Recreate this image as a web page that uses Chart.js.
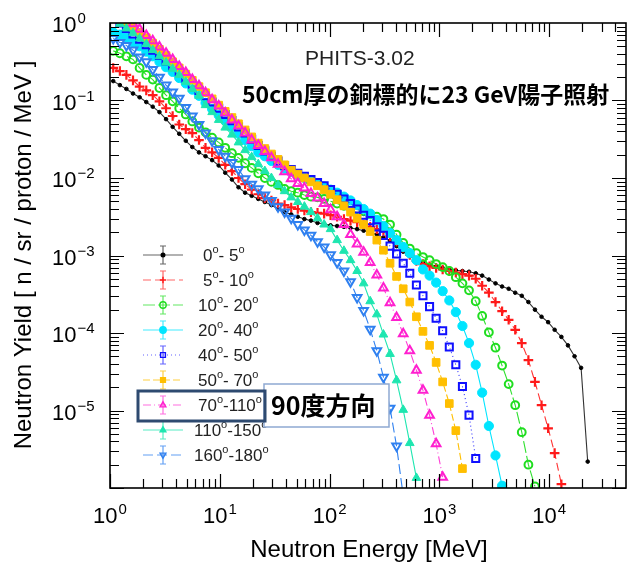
<!DOCTYPE html>
<html>
<head>
<meta charset="utf-8">
<script src="https://cdn.jsdelivr.net/npm/chart.js@4.4.1/dist/chart.umd.min.js"></script>
<style>
html,body{margin:0;padding:0;background:#fff}
canvas{display:block}
</style>
</head>
<body>
<canvas id="yieldChart" width="633" height="565"></canvas>
<script>
// energy bin centres [MeV]
const energies = [1.07,1.23,1.41,1.62,1.86,2.14,2.45,2.82,3.24,3.72,4.27,4.90,5.62,6.46,7.41,8.51,9.77,
  11.2,12.9,14.8,17.0,19.5,22.4,25.7,29.5,33.9,38.9,44.7,51.3,58.9,67.6,77.6,89.1,
  102,117,135,155,178,204,234,269,309,355,407,468,537,617,708,813,933,
  1070,1230,1410,1620,1860,2140,2450,2820,3240,3720,4270,4900,5620,6460,7410,8510,9770,
  11200,12900,14800,17000,19500,22400]

const angleLabels = ['0°- 5°','5°- 10°','10°- 20°','20°- 40°','40°- 50°','50°- 70°','70°-110°','110°-150°','160°-180°']

// neutron yield [n/sr/proton/MeV] per angle bin
const yield0to5 = [0.178,0.158,0.141,0.123,0.110,9.55e-2,8.32e-2,7.08e-2,5.75e-2,4.57e-2,3.72e-2,3.02e-2,2.51e-2,2.14e-2,1.91e-2,1.70e-2,1.45e-2,
  1.17e-2,9.55e-3,7.59e-3,6.46e-3,5.89e-3,5.37e-3,4.90e-3,4.47e-3,3.98e-3,3.63e-3,3.39e-3,3.16e-3,2.95e-3,2.82e-3,2.63e-3,2.57e-3,
  2.45e-3,2.40e-3,2.34e-3,2.26e-3,2.19e-3,2.09e-3,2.00e-3,1.86e-3,1.70e-3,1.55e-3,1.32e-3,1.12e-3,9.77e-4,8.91e-4,8.13e-4,7.59e-4,7.24e-4,
  6.92e-4,6.61e-4,6.46e-4,6.31e-4,6.17e-4,5.89e-4,5.50e-4,4.90e-4,4.37e-4,3.98e-4,3.72e-4,3.31e-4,3.02e-4,2.51e-4,2.00e-4,1.62e-4,1.38e-4,
  1.10e-4,8.91e-5,6.92e-5,5.01e-5,3.55e-5,2.19e-6]
const yield5to10 = [0.263,0.240,0.214,0.182,0.151,0.135,0.117,9.77e-2,7.94e-2,6.31e-2,4.90e-2,4.27e-2,3.80e-2,3.09e-2,2.45e-2,2.14e-2,1.82e-2,
  1.48e-2,1.23e-2,1.00e-2,8.32e-3,7.08e-3,6.17e-3,5.50e-3,5.13e-3,4.68e-3,4.47e-3,4.17e-3,3.98e-3,3.80e-3,3.63e-3,3.55e-3,3.47e-3,
  3.31e-3,3.16e-3,2.95e-3,2.82e-3,2.69e-3,2.51e-3,2.34e-3,2.19e-3,2.04e-3,1.78e-3,1.51e-3,1.26e-3,1.02e-3,8.51e-4,7.76e-4,7.24e-4,6.92e-4,
  6.61e-4,6.31e-4,6.03e-4,5.75e-4,5.50e-4,5.01e-4,4.07e-4,3.31e-4,2.51e-4,1.91e-4,1.48e-4,1.10e-4,7.41e-5,4.47e-5,2.34e-5,1.17e-5,5.89e-6,
  2.82e-6,1.12e-6]
const yield10to20 = [0.437,0.407,0.372,0.339,0.263,0.214,0.186,0.145,0.117,9.77e-2,7.94e-2,6.61e-2,5.37e-2,4.47e-2,3.89e-2,3.31e-2,2.88e-2,
  2.45e-2,2.09e-2,1.82e-2,1.55e-2,1.35e-2,1.15e-2,1.00e-2,8.91e-3,8.13e-3,7.24e-3,6.76e-3,6.46e-3,6.03e-3,5.75e-3,5.62e-3,5.37e-3,
  5.01e-3,4.68e-3,4.37e-3,4.17e-3,3.98e-3,3.72e-3,3.39e-3,3.16e-3,2.95e-3,2.51e-3,1.86e-3,1.45e-3,1.23e-3,1.07e-3,9.55e-4,8.71e-4,7.76e-4,
  7.08e-4,6.31e-4,5.25e-4,4.37e-4,3.55e-4,2.57e-4,1.66e-4,1.02e-4,6.46e-5,3.80e-5,2.19e-5,1.17e-5,5.25e-6,2.00e-6,1.05e-6]
const yield20to40 = [0.759,0.708,0.646,0.562,0.501,0.427,0.372,0.316,0.269,0.234,0.195,0.166,0.138,0.115,9.33e-2,7.76e-2,6.46e-2,
  5.50e-2,4.57e-2,3.72e-2,3.09e-2,2.57e-2,2.14e-2,1.91e-2,1.66e-2,1.48e-2,1.32e-2,1.20e-2,1.10e-2,1.00e-2,9.33e-3,8.51e-3,7.76e-3,
  7.08e-3,6.46e-3,5.75e-3,5.13e-3,4.47e-3,3.98e-3,3.47e-3,2.88e-3,2.40e-3,1.95e-3,1.58e-3,1.29e-3,1.07e-3,8.71e-4,6.61e-4,5.50e-4,4.47e-4,
  3.47e-4,2.63e-4,1.86e-4,1.23e-4,7.41e-5,3.89e-5,1.70e-5,6.31e-6,2.63e-6,1.07e-6]
const yield40to50 = [1.15,1.00,0.851,0.724,0.617,0.525,0.447,0.380,0.324,0.275,0.234,0.195,0.162,0.135,0.115,9.55e-2,7.94e-2,
  6.61e-2,5.50e-2,4.57e-2,3.80e-2,3.16e-2,2.63e-2,2.24e-2,1.91e-2,1.66e-2,1.45e-2,1.29e-2,1.15e-2,1.05e-2,9.55e-3,8.71e-3,7.94e-3,
  7.08e-3,6.17e-3,5.37e-3,4.68e-3,3.98e-3,3.31e-3,2.82e-3,2.34e-3,1.82e-3,1.32e-3,1.05e-3,7.94e-4,5.89e-4,4.17e-4,3.02e-4,2.19e-4,1.55e-4,
  1.07e-4,6.61e-5,3.89e-5,2.04e-5,8.71e-6,2.40e-6]
const yield50to70 = [1.41,1.23,1.05,0.891,0.759,0.646,0.550,0.457,0.380,0.316,0.263,0.219,0.182,0.151,0.126,0.105,8.71e-2,
  7.24e-2,6.03e-2,5.01e-2,4.17e-2,3.39e-2,2.82e-2,2.40e-2,2.04e-2,1.74e-2,1.48e-2,1.26e-2,1.12e-2,1.00e-2,8.91e-3,7.94e-3,7.08e-3,
  6.17e-3,5.25e-3,4.37e-3,3.63e-3,3.02e-3,2.51e-3,2.04e-3,1.58e-3,1.17e-3,7.94e-4,5.37e-4,3.72e-4,2.51e-4,1.62e-4,1.05e-4,6.92e-5,4.17e-5,
  2.34e-5,1.23e-5,5.50e-6,1.78e-6]
const yield70to110 = [1.58,1.35,1.15,0.977,0.832,0.692,0.589,0.490,0.407,0.339,0.275,0.229,0.186,0.155,0.126,0.102,8.51e-2,
  6.92e-2,5.62e-2,4.68e-2,3.80e-2,3.09e-2,2.63e-2,2.19e-2,1.82e-2,1.51e-2,1.20e-2,9.77e-3,8.51e-3,7.41e-3,6.31e-3,5.50e-3,4.68e-3,
  3.89e-3,3.16e-3,2.51e-3,1.86e-3,1.41e-3,1.10e-3,8.13e-4,5.62e-4,3.80e-4,2.45e-4,1.58e-4,9.77e-5,5.89e-5,3.31e-5,1.82e-5,8.71e-6,3.72e-6,
  1.38e-6]
const yield110to150 = [1.15,0.977,0.851,0.741,0.631,0.537,0.447,0.372,0.309,0.257,0.214,0.174,0.141,0.115,8.71e-2,7.08e-2,5.62e-2,
  4.47e-2,3.63e-2,2.88e-2,2.29e-2,1.86e-2,1.51e-2,1.23e-2,1.00e-2,8.13e-3,6.76e-3,5.62e-3,4.90e-3,4.27e-3,3.63e-3,3.02e-3,2.51e-3,
  2.19e-3,1.58e-3,1.15e-3,8.71e-4,6.31e-4,4.37e-4,2.57e-4,1.74e-4,9.55e-5,5.37e-5,2.45e-5,1.02e-5,3.80e-6,1.35e-6]
const yield160to180 = [0.631,0.562,0.513,0.447,0.363,0.316,0.251,0.200,0.158,0.129,0.107,8.13e-2,6.31e-2,4.90e-2,3.80e-2,3.02e-2,2.34e-2,
  1.91e-2,1.58e-2,1.29e-2,9.77e-3,8.32e-3,7.24e-3,6.03e-3,5.13e-3,4.27e-3,3.63e-3,3.02e-3,2.51e-3,2.14e-3,1.82e-3,1.51e-3,1.29e-3,
  1.02e-3,8.13e-4,6.31e-4,4.57e-4,2.88e-4,1.95e-4,1.12e-4,5.89e-5,2.69e-5,1.07e-5,3.47e-6,7.94e-7]

const xTickPowers = [0,1,2,3,4]
const yTickPowers = [0,-1,-2,-3,-4,-5]
const codeLabel = 'PHITS-3.02'
const setupLabel = '50cm厚の銅標的に23 GeV陽子照射'
const calloutLabel = '90度方向'

const seriesValues = [yield0to5,yield5to10,yield10to20,yield20to40,yield40to50,yield50to70,yield70to110,yield110to150,yield160to180]

const looks = [
  {color:'#000000', line:'#333333', style:'circle', r:1.8, open:false, dash:[]},
  {color:'#ff1a1a', line:'#ff3333', style:'cross', r:4.8, open:false, dash:[8,4]},
  {color:'#1fdd1f', line:'#2ee02e', style:'circle', r:3.9, open:true, dash:[12,3]},
  {color:'#00e5ff', line:'#00e5ff', style:'circle', r:4.6, open:false, dash:[]},
  {color:'#1010ff', line:'#3030ff', style:'rect', r:5, open:true, dash:[1,3]},
  {color:'#ffbf00', line:'#ffbf00', style:'rect', r:5.4, open:false, dash:[7,3]},
  {color:'#ff1fcf', line:'#ff3fd6', style:'triangle', r:5, open:true, dash:[8,3,1,3]},
  {color:'#1ee6b0', line:'#1ee6b0', style:'triangle', r:5, open:false, dash:[]},
  {color:'#2f80f0', line:'#2f80f0', style:'triangle', r:5, open:true, dash:[10,4], rot:180}
]

const datasets = seriesValues.map(function(vals, i){
  const lk = looks[i]
  return {
    label: angleLabels[i],
    data: vals.map((v, k) => ({x: energies[k], y: v})),
    showLine: true,
    borderColor: lk.line,
    borderWidth: 1.1,
    borderDash: lk.dash,
    pointStyle: lk.style,
    pointRadius: lk.r,
    pointRotation: lk.rot || 0,
    pointBorderColor: lk.color,
    pointBackgroundColor: lk.open ? 'rgba(0,0,0,0)' : lk.color,
    pointBorderWidth: lk.style === 'cross' ? 2.2 : (lk.open ? 2 : 1),
    order: 20 - i
  }
})

function powLabel(ctx, p, x, y, align){
  const base = '10'
  const sup = p < 0 ? '\u2212' + (-p) : String(p)
  ctx.font = '22px "Liberation Sans", Arial, sans-serif'
  const wb = ctx.measureText(base).width
  ctx.font = '15px "Liberation Sans", Arial, sans-serif'
  const ws = ctx.measureText(sup).width
  let x0 = align === 'center' ? x - (wb + ws + 1) / 2 : x
  ctx.textAlign = 'left'
  ctx.textBaseline = 'alphabetic'
  ctx.font = '22px "Liberation Sans", Arial, sans-serif'
  ctx.fillText(base, x0, y)
  ctx.font = '15px "Liberation Sans", Arial, sans-serif'
  ctx.fillText(sup, x0 + wb + 1, y - 9)
}

function degLabel(ctx, text, x, y){
  const parts = text.split('°')
  let cx = x
  ctx.textAlign = 'left'
  ctx.textBaseline = 'middle'
  parts.forEach(function(part, k){
    ctx.font = '17px "Liberation Sans", Arial, sans-serif'
    ctx.fillText(part, cx, y)
    cx += ctx.measureText(part).width
    if (k < parts.length - 1) {
      ctx.font = '11px "Liberation Sans", Arial, sans-serif'
      ctx.fillText('o', cx, y - 6)
      cx += ctx.measureText('o').width
    }
  })
}

function marker(ctx, lk, x, y, r){
  ctx.beginPath()
  if (lk.style === 'circle') {
    ctx.arc(x, y, r, 0, Math.PI * 2)
  } else if (lk.style === 'rect') {
    const s = r * 0.75
    ctx.rect(x - s, y - s, 2 * s, 2 * s)
  } else if (lk.style === 'cross') {
    ctx.moveTo(x - r, y); ctx.lineTo(x + r, y)
    ctx.moveTo(x, y - r); ctx.lineTo(x, y + r)
  } else {
    const d = lk.rot ? -1 : 1
    ctx.moveTo(x, y - d * r)
    ctx.lineTo(x + r * 0.9, y + d * r * 0.6)
    ctx.lineTo(x - r * 0.9, y + d * r * 0.6)
    ctx.closePath()
  }
  ctx.strokeStyle = lk.color
  ctx.lineWidth = 1.4
  ctx.setLineDash([])
  if (!lk.open && lk.style !== 'cross') { ctx.fillStyle = lk.color; ctx.fill() }
  ctx.stroke()
}

const decorations = {
  id: 'decorations',
  afterDatasetsDraw(chart){
    const ctx = chart.ctx
    const a = chart.chartArea
    const sx = chart.scales.x, sy = chart.scales.y
    ctx.save()
    ctx.strokeStyle = '#000'
    ctx.lineWidth = 1.2
    ctx.beginPath()
    for (let p = 0; p <= 4; p++) {
      for (let m = 1; m <= 9; m++) {
        const v = m * Math.pow(10, p)
        if (v >= sx.max) break
        const px = Math.round(sx.getPixelForValue(v)) + 0.5
        const len = m === 1 ? 14 : 9
        ctx.moveTo(px, a.bottom); ctx.lineTo(px, a.bottom - len)
        ctx.moveTo(px, a.top); ctx.lineTo(px, a.top + len)
      }
    }
    for (let p = -6; p <= -1; p++) {
      for (let m = 1; m <= 9; m++) {
        const v = m * Math.pow(10, p)
        const py = Math.round(sy.getPixelForValue(v)) + 0.5
        const len = m === 1 ? 14 : 9
        ctx.moveTo(a.left, py); ctx.lineTo(a.left + len, py)
        ctx.moveTo(a.right, py); ctx.lineTo(a.right - len, py)
      }
    }
    ctx.stroke()
    ctx.lineWidth = 1.6
    ctx.strokeRect(a.left, a.top, a.right - a.left, a.bottom - a.top)

    ctx.fillStyle = '#000'
    xTickPowers.forEach(p => powLabel(ctx, p, sx.getPixelForValue(Math.pow(10, p)), 523, 'center'))
    yTickPowers.forEach(p => powLabel(ctx, p, 52, sy.getPixelForValue(Math.pow(10, p)) + 9, 'left'))

    ctx.font = '24px "Liberation Sans", Arial, sans-serif'
    ctx.textAlign = 'center'
    ctx.textBaseline = 'alphabetic'
    ctx.fillText('Neutron Energy [MeV]', 369, 557)
    ctx.save()
    ctx.translate(31, 255)
    ctx.rotate(-Math.PI / 2)
    ctx.fillText('Neutron Yield [ n / sr / proton / MeV ]', 0, 0)
    ctx.restore()

    ctx.textAlign = 'left'
    ctx.fillStyle = '#222'
    ctx.font = '21px "Liberation Sans", Arial, sans-serif'
    ctx.fillText(codeLabel, 305, 65)
    ctx.fillStyle = '#000'
    ctx.font = 'bold 23px "Noto Sans CJK JP", sans-serif'
    ctx.fillText(setupLabel, 242, 103)

    // legend with error-bar glyphs
    const textX = [203,203,198,198,198,198,198,194,194]
    looks.forEach(function(lk, i){
      const y = 255 + 25 * i
      ctx.strokeStyle = lk.line
      ctx.globalAlpha = 0.75
      ctx.lineWidth = 1.2
      ctx.setLineDash(lk.dash)
      ctx.beginPath(); ctx.moveTo(143, y); ctx.lineTo(183, y); ctx.stroke()
      ctx.setLineDash([])
      ctx.beginPath()
      ctx.moveTo(163, y - 9); ctx.lineTo(163, y + 9)
      ctx.moveTo(160, y - 9); ctx.lineTo(166, y - 9)
      ctx.moveTo(160, y + 9); ctx.lineTo(166, y + 9)
      ctx.stroke()
      ctx.globalAlpha = 1
      marker(ctx, lk, 163, y, lk.style === 'circle' && !lk.open && i === 0 ? 1.8 : 3.2)
      ctx.fillStyle = '#222'
      degLabel(ctx, angleLabels[i], textX[i], y + 1)
    })

    // callout
    ctx.fillStyle = '#fff'
    ctx.fillRect(264, 384, 125, 43)
    ctx.strokeStyle = '#8ea9d2'
    ctx.lineWidth = 1.5
    ctx.strokeRect(264, 384, 125, 43)
    ctx.strokeStyle = '#2e4a70'
    ctx.lineWidth = 3
    ctx.strokeRect(138, 391, 127, 30)
    ctx.fillStyle = '#000'
    ctx.textAlign = 'left'
    ctx.textBaseline = 'alphabetic'
    ctx.font = 'bold 25px "Noto Sans CJK JP", sans-serif'
    ctx.fillText(calloutLabel, 271, 415)
    ctx.restore()
  }
}

new Chart(document.getElementById('yieldChart'), {
  type: 'scatter',
  data: {datasets: datasets},
  options: {
    responsive: false,
    animation: false,
    layout: {padding: {left: 110, top: 23, right: 6, bottom: 77}},
    elements: {line: {tension: 0}},
    plugins: {legend: {display: false}, tooltip: {enabled: false}},
    scales: {
      x: {type: 'logarithmic', min: 1, max: 50000, display: false},
      y: {type: 'logarithmic', min: 1e-6, max: 1, display: false}
    }
  },
  plugins: [decorations]
})
</script>
</body>
</html>
